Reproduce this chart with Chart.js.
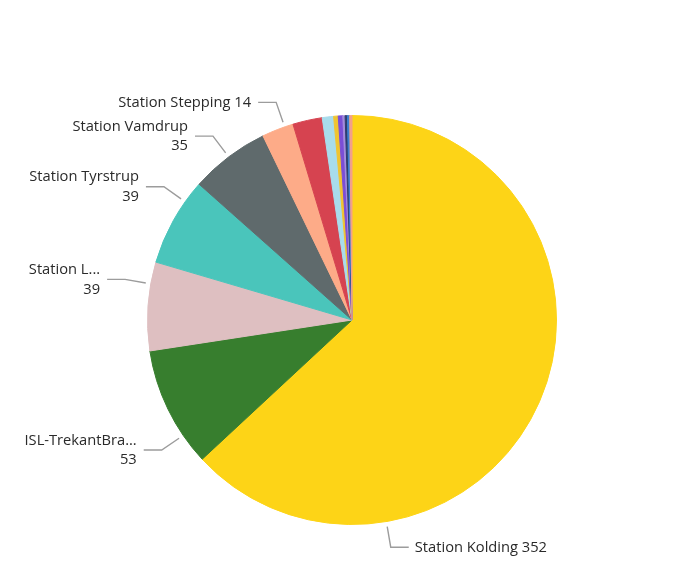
<!DOCTYPE html>
<html>
<head>
<meta charset="utf-8">
<script src="https://cdn.jsdelivr.net/npm/chart.js@4.4.1/dist/chart.umd.min.js"></script>
<style>
    html, body { margin: 0; padding: 0; background: #ffffff; }
    #wrap { width: 687px; height: 563px; }
</style>
</head>
<body>
<div id="wrap"><canvas id="stationPie" width="687" height="563"></canvas></div>
<script>
// stations, clockwise from 12 o'clock
const stations = [
    'Station Kolding', 'ISL-TrekantBra...', 'Station L...', 'Station Tyrstrup',
    'Station Vamdrup', 'Station Stepping', 'Station Christiansfeld', 'Station Bramdrup',
    'Station Sønder Stenderup', 'Station Eltang', 'Station Hejls', 'Station Viuf',
    'Station Ødis', 'Station Skanderup'
];
const counts = [352, 53, 39, 39, 35, 14, 13, 5, 2, 2, 1, 1, 1, 1];
const sliceColors = [
    '#FDD417', '#377E2E', '#DEBFC1', '#4AC5BB', '#5F6A6C', '#FDAB88', '#D64350',
    '#A8DCEC', '#F0C430', '#7B4ED6', '#A48CDB', '#2D3D6E', '#3A7FD0', '#F3A08A'
];
// where along each slice the data label is attached (null = no label)
const labelAnchor = [0.75, 0.25, 0.75, 0.75, 0.5, 0.73, null, null, null, null, null, null, null, null];

const pieLabels = {
    id: 'pieLabels',
    afterDatasetsDraw(chart) {
        const ctx = chart.ctx;
        const meta = chart.getDatasetMeta(0);
        const values = chart.data.datasets[0].data;
        ctx.save();
        ctx.font = '14.7px "Open Sans", sans-serif';
        ctx.textBaseline = 'middle';
        meta.data.forEach((arc, i) => {
            const f = labelAnchor[i];
            if (f == null) return;
            const p = arc.getProps(['x', 'y', 'startAngle', 'endAngle', 'outerRadius'], true);
            const a = p.startAngle + f * (p.endAngle - p.startAngle);
            const r0 = p.outerRadius + 5, r1 = p.outerRadius + 26;
            const ax = p.x + r0 * Math.cos(a), ay = p.y + r0 * Math.sin(a);
            const ex = p.x + r1 * Math.cos(a), ey = p.y + r1 * Math.sin(a);
            const left = Math.cos(a) < 0;
            const hx = ex + (left ? -18 : 18);

            ctx.strokeStyle = '#9c9c9c';
            ctx.lineWidth = 1.4;
            ctx.beginPath();
            ctx.moveTo(ax, ay);
            ctx.lineTo(ex, ey);
            ctx.lineTo(hx, ey);
            ctx.stroke();

            ctx.fillStyle = '#2a2a2a';
            ctx.textAlign = left ? 'right' : 'left';
            const tx = hx + (left ? -7 : 6);
            const name = chart.data.labels[i];
            // near the top/bottom there is room for one line
            if (Math.abs(Math.cos(a)) < 0.4) {
                ctx.fillText(name + ' ' + values[i], tx, ey + 0.5);
            } else {
                ctx.fillText(name, tx, ey - 9.5);
                ctx.fillText(String(values[i]), tx, ey + 10);
            }
        });
        ctx.restore();
    }
};

new Chart(document.getElementById('stationPie'), {
    type: 'pie',
    data: {
        labels: stations,
        datasets: [{
            data: counts,
            backgroundColor: sliceColors,
            borderColor: sliceColors,
            borderWidth: 1
        }]
    },
    options: {
        responsive: false,
        animation: false,
        layout: { padding: { top: 115, bottom: 38, left: 147, right: 130 } },
        plugins: {
            legend: { display: false },
            tooltip: { enabled: false }
        }
    },
    plugins: [pieLabels]
});
</script>
</body>
</html>
